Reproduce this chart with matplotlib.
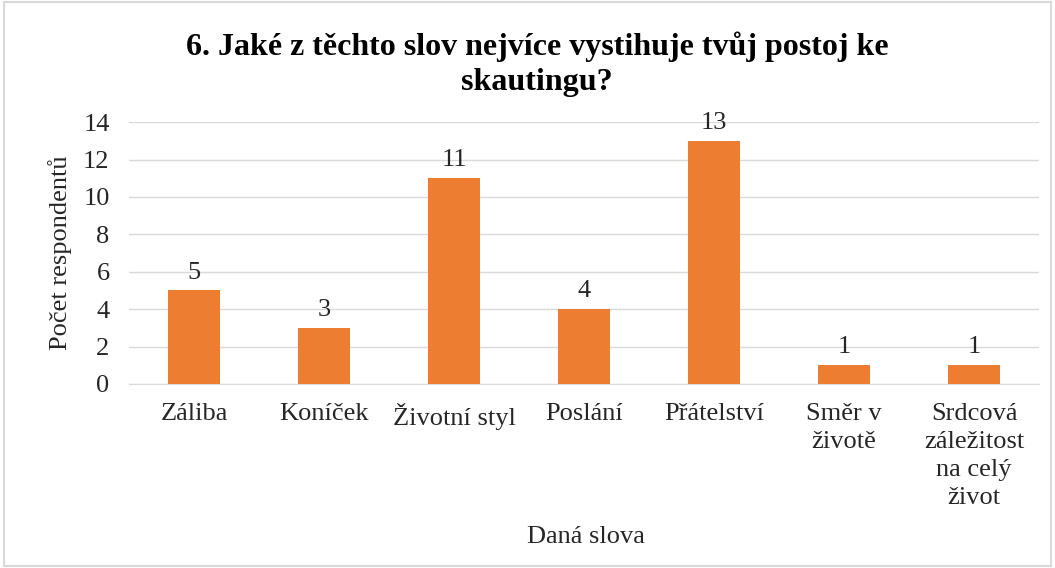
import matplotlib.pyplot as plt
from matplotlib.patches import Rectangle

# data
categories = ["Záliba", "Koníček", "Životní styl", "Poslání", "Přátelství",
              "Směr v\nživotě", "Srdcová\nzáležitost\nna celý\nživot"]
counts = [5, 3, 11, 4, 13, 1, 1]
yticks = [0, 2, 4, 6, 8, 10, 12, 14]

plt.rcParams['font.family'] = ['Liberation Serif', 'DejaVu Serif']

fig = plt.figure(figsize=(10.55, 5.68), dpi=100)
ax = fig.add_axes([0.1223, 0.324, 0.8626, 0.461])

x = range(len(categories))
bars = ax.bar(x, counts, width=0.4, color="#ED7D31", zorder=3)

# value labels above the bars
for b, v in zip(bars, counts):
    ax.annotate(str(v), (b.get_x() + b.get_width() / 2, v), xytext=(0, 5),
                textcoords="offset points", ha="center", va="bottom",
                fontsize=19, color="#262626")

ax.set_xlim(-0.5, len(categories) - 0.5)
ax.set_ylim(0, 14)
ax.set_yticks(yticks)
ax.set_xticks(list(x))
ax.set_xticklabels(categories, fontsize=19, color="#262626", linespacing=1.35)
ax.tick_params(axis="y", labelsize=19, labelcolor="#262626", length=0, pad=14)
ax.tick_params(axis="x", length=0, pad=14)
ax.grid(axis="y", color="#D9D9D9", linewidth=1, zorder=0)
for s in ["top", "right", "left"]:
    ax.spines[s].set_visible(False)
ax.spines["bottom"].set_color("#D9D9D9")

ax.set_ylabel("Počet respondentů", fontsize=19, color="#262626", labelpad=8)
fig.text(0.555, 0.055, "Daná slova", ha="center", va="center", fontsize=19, color="#262626")

fig.text(0.509, 0.887, "6. Jaké z těchto slov nejvíce vystihuje tvůj postoj ke\nskautingu?",
         ha="center", va="center", fontsize=23, fontweight="bold", linespacing=1.3)

# light border round the chart
fig.patches.append(Rectangle((0.004, 0.004), 0.992, 0.992, transform=fig.transFigure,
                             fill=False, edgecolor="#D9D9D9", linewidth=1.5))

fig.savefig("out.png", dpi=100)
